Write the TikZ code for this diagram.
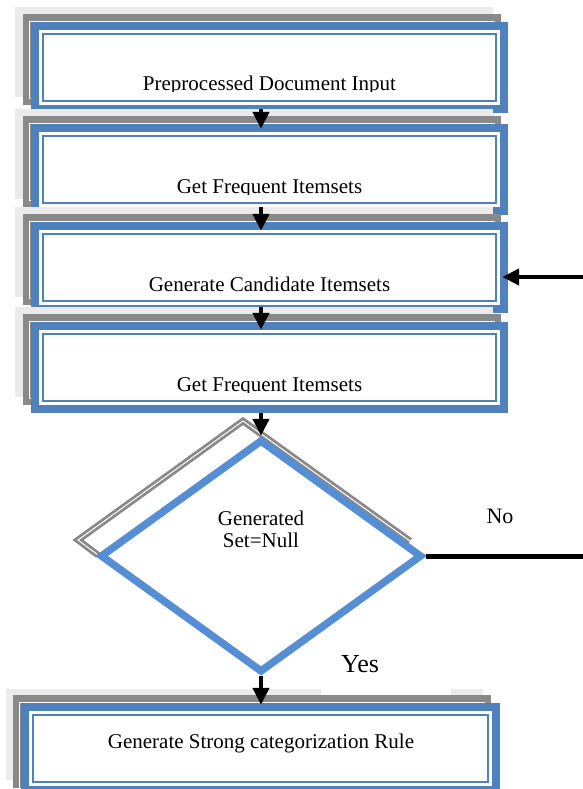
\documentclass[tikz,border=0pt]{standalone}
\usepackage{fontspec}
\setmainfont{Liberation Serif}
\usetikzlibrary{arrows.meta,shapes.geometric,calc}
\definecolor{boxblue}{HTML}{4F81BD}
\definecolor{diablue}{HTML}{558ED5}
\definecolor{dgray}{HTML}{898989}
\definecolor{lgray}{HTML}{EBEBEB}
\newcommand{\grayshadow}[2]{%
  \fill[lgray] (#1,#2) rectangle ++(478,90);
  \fill[dgray] (#1+8,#2+7) rectangle ++(478,91);
  \draw[white, line width=0.8pt] (#1+14.5,#2+14) rectangle ++(465,77);
}
\begin{document}
\begin{tikzpicture}[x=1pt,y=-1pt,
  bluebox/.style={rectangle, minimum width=477pt, minimum height=91pt, inner sep=0pt,
    fill=boxblue,
    path picture={
      \fill[white] ([shift={(8pt,-8pt)}]path picture bounding box.north west) rectangle ([shift={(-8pt,8pt)}]path picture bounding box.south east);
      \draw[boxblue, line width=2.5pt] ([shift={(12pt,-12pt)}]path picture bounding box.north west) rectangle ([shift={(-12pt,12pt)}]path picture bounding box.south east);
    }},
  lbl/.style={font=\fontsize{21}{25}\selectfont, inner sep=0pt, anchor=base},
  arr/.style={line width=4.5pt, -{Triangle[length=17pt,width=16pt]}},
]
\useasboundingbox (0,0) rectangle (583,789);
\fill[white] (0,0) rectangle (583,789);

% box 1
\grayshadow{15}{7}
\node[bluebox] (b1) at (269.5,67.5) {};
\begin{scope}
  \clip (31,22) rectangle (508,92);
  \node[lbl] (t1) at (269.5,91) {Preprocessed Document Input};
\end{scope}

% box 2
\grayshadow{15}{109}
\node[bluebox] (b2) at (269.5,169.5) {};
\begin{scope}
  \clip (31,124) rectangle (508,194);
  \node[lbl] (t2) at (269.5,193) {Get Frequent Itemsets};
\end{scope}

% box 3
\grayshadow{15}{207}
\node[bluebox] (b3) at (269.5,267.5) {};
\begin{scope}
  \clip (31,222) rectangle (508,292);
  \node[lbl] (t3) at (269.5,291) {Generate Candidate Itemsets};
\end{scope}

% box 4
\grayshadow{15}{307}
\node[bluebox] (b4) at (269.5,367.5) {};
\begin{scope}
  \clip (31,322) rectangle (508,392);
  \node[lbl] (t4) at (269.5,391) {Get Frequent Itemsets};
\end{scope}

% decision
\draw[dgray, line width=2.8pt, double=white, double distance=1pt]
  (98,555) -- (78,540) -- (243,421) -- (410,541);
\node[diamond, draw=diablue, line width=7.5pt, fill=white, minimum width=322pt,
  minimum height=233pt, inner sep=0pt] (d) at (261,556) {};
\node[lbl] (dt1) at (261,525) {Generated};
\node[lbl] (dt2) at (261,547) {Set=Null};
\node[lbl, font=\fontsize{22}{26}\selectfont] (no) at (500,523) {No};
\node[lbl, font=\fontsize{26}{30}\selectfont] (yes) at (360,672) {Yes};

% box 5
\fill[lgray] (6,689) rectangle ++(477,91);
\fill[white] (321,680) rectangle (451,695);
\fill[dgray] (13,695) rectangle ++(478,93);
\draw[white, line width=0.8pt] (19.5,702) rectangle ++(465,90);
\node[bluebox, minimum width=479pt] (b5) at (260.5,748.5) {};
\node[lbl] (t5) at (261,748) {Generate Strong categorization Rule};

% connectors
\coordinate (in) at (583,277);
\coordinate (noend) at (583,556);
\draw[arr] ($(b1.south -| d.north)+(0,-4)$) -- ($(b2.north -| d.north)+(0,5)$);
\draw[arr] ($(b2.south -| d.north)+(0,-8)$) -- ($(b3.north -| d.north)+(0,9)$);
\draw[arr] ($(b3.south -| d.north)+(0,-6)$) -- ($(b4.north -| d.north)+(0,8)$);
\draw[arr] (b4.south -| d.north) -- (d.north);
\draw[arr] (d.south) -- ($(b5.north -| d.south)+(0,2)$);
\draw[arr] (in) -- ($(b3.east |- in)+(-6,0)$);
\draw[line width=5pt] (d.east) -- (noend);
\end{tikzpicture}
\end{document}
